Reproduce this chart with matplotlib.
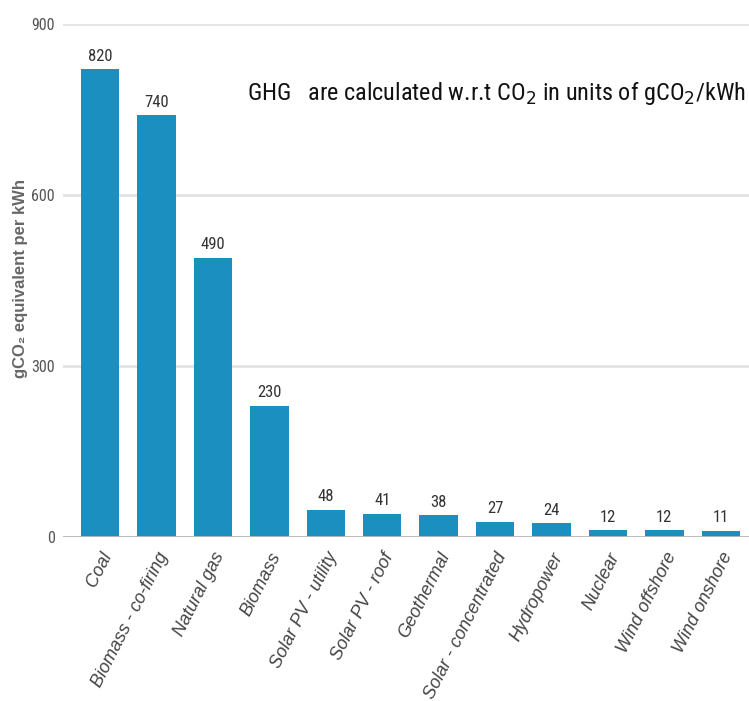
import matplotlib
matplotlib.use("Agg")
import matplotlib.pyplot as plt
from matplotlib import font_manager
from matplotlib.font_manager import FontProperties

sources = ["Coal", "Biomass - co-firing", "Natural gas", "Biomass",
           "Solar PV - utility", "Solar PV - roof", "Geothermal",
           "Solar - concentrated", "Hydropower", "Nuclear",
           "Wind offshore", "Wind onshore"]
emissions = [820, 740, 490, 230, 48, 41, 38, 27, 24, 12, 12, 11]
yticks = [0, 300, 600, 900]


def find_narrow_font():
    """Pick a condensed/narrow regular face if one is installed."""
    cands = []
    for f in font_manager.fontManager.ttflist:
        fn = f.fname.lower()
        is_narrow = ("condensed" in fn or "narrow" in fn or
                     str(f.stretch).lower() in ("condensed", "semi-condensed"))
        if not is_narrow:
            continue
        if "bold" in fn or "italic" in fn or "oblique" in fn or "light" in fn:
            continue
        if f.style != "normal":
            continue
        if "mono" in fn or "serif" in fn and "sans" not in fn:
            continue
        cands.append(f.fname)
    if cands:
        cands.sort(key=lambda p: (0 if "liberation" in p.lower() else
                                  1 if "roboto" in p.lower() else
                                  2 if "opensans" in p.lower().replace(" ", "") else 3, p))
        return FontProperties(fname=cands[0])
    return FontProperties(family="DejaVu Sans")


narrow = find_narrow_font()

# subscripts in the note follow the same narrow face
plt.rcParams["mathtext.fontset"] = "custom"
plt.rcParams["mathtext.rm"] = narrow.get_name()
plt.rcParams["mathtext.it"] = narrow.get_name()

bar_color = "#1a8fc0"

fig = plt.figure(figsize=(7.49, 7.01), dpi=100)
ax = fig.add_axes([0.084, 0.234, 0.916, 0.732])

x = list(range(len(sources)))
ax.bar(x, emissions, width=0.68, color=bar_color, zorder=3)

ax.set_ylim(0, 900)
ax.set_xlim(-0.66, 11.5)
ax.set_yticks(yticks)
ax.set_yticklabels([str(v) for v in yticks])
for lbl in ax.get_yticklabels():
    lbl.set_fontproperties(narrow)
    lbl.set_fontsize(11.5)
    lbl.set_color("#555555")
ax.yaxis.grid(True, color="#e3e3e3", linewidth=2, zorder=0)
ax.tick_params(axis="y", length=0, pad=6)
ax.tick_params(axis="x", length=0, pad=9)
ax.axhline(0, color="#bbbbbb", linewidth=2, zorder=4)

for s in ax.spines.values():
    s.set_visible(False)

ax.set_xticks(x)
ax.set_xticklabels(sources, rotation=63, ha="right", rotation_mode="anchor",
                   fontstyle="italic", fontsize=13, color="#444444",
                   fontfamily=["Liberation Sans", "DejaVu Sans"])

for xi, v in zip(x, emissions):
    t = ax.annotate(str(v), (xi, v), xytext=(0, 4), textcoords="offset points",
                    ha="center", va="bottom", color="#333333")
    t.set_fontproperties(narrow)
    t.set_fontsize(12)

fig.text(0.027, 0.602, "gCO\u2082 equivalent per kWh", rotation=90,
         fontsize=12, fontweight="bold", color="#666666",
         fontfamily=["Liberation Sans", "DejaVu Sans"],
         ha="center", va="center")

title = fig.text(0.330, 0.866,
                 "GHG   are calculated w.r.t CO$_2$ in units of gCO$_2$/kWh",
                 color="#111111", ha="left", va="center")
title.set_fontproperties(narrow)
title.set_fontsize(16)

# size the note so it spans to the right edge of the figure
fig.canvas.draw()
bb = title.get_window_extent()
target = 0.998 * fig.bbox.width - bb.x0
title.set_fontsize(16 * target / bb.width)

fig.savefig("out.png", dpi=100)
